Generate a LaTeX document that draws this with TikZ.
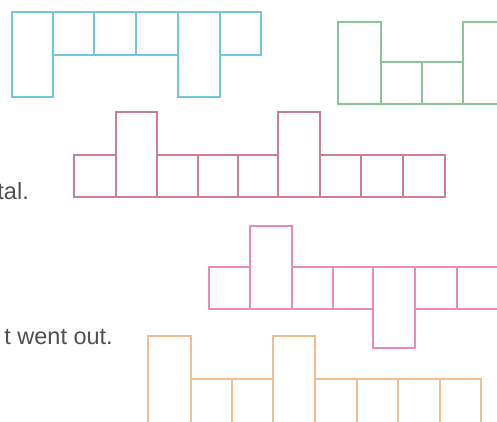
\documentclass[tikz,border=0pt]{standalone}
\usepackage{fontspec}
\setmainfont{Liberation Sans}
\definecolor{cblue}{HTML}{72C6DE}
\definecolor{cgreen}{HTML}{8CC49A}
\definecolor{cred}{HTML}{C98090}
\definecolor{cpink}{HTML}{E78CB6}
\definecolor{corange}{HTML}{F1BF8D}
\definecolor{ctext}{HTML}{505050}
\begin{document}
\begin{tikzpicture}[x=1pt,y=-1pt,
  cell/.style={line width=2pt},
  lbl/.style={text=ctext,font=\fontsize{23.5}{26}\selectfont,inner sep=0pt,anchor=base east}]
\useasboundingbox (0,0) rectangle (497,421);
% blue
\begin{scope}[cell,draw=cblue]
\draw (12,12) rectangle (53,97);
\draw (53,12) rectangle (94,55);
\draw (94,12) rectangle (136,55);
\draw (136,12) rectangle (178,55);
\draw (178,12) rectangle (220,97);
\draw (220,12) rectangle (261,55);
\end{scope}
% green
\begin{scope}[cell,draw=cgreen]
\draw (338,22) rectangle (381,104);
\draw (381,62) rectangle (422,104);
\draw (422,62) rectangle (463,104);
\draw (463,22) rectangle (506,104);
\end{scope}
% red
\begin{scope}[cell,draw=cred]
\draw (74,155) rectangle (116,197);
\draw (116,112) rectangle (157,197);
\draw (157,155) rectangle (198,197);
\draw (198,155) rectangle (238,197);
\draw (238,155) rectangle (278,197);
\draw (278,112) rectangle (320,197);
\draw (320,155) rectangle (361,197);
\draw (361,155) rectangle (403,197);
\draw (403,155) rectangle (445,197);
\end{scope}
% pink
\begin{scope}[cell,draw=cpink]
\draw (209,267) rectangle (250,309);
\draw (250,226) rectangle (292,309);
\draw (292,267) rectangle (333,309);
\draw (333,267) rectangle (373,309);
\draw (373,267) rectangle (415,348);
\draw (415,267) rectangle (457,309);
\draw (457,267) rectangle (498,309);
\end{scope}
% orange
\begin{scope}[cell,draw=corange]
\draw (148,336) rectangle (191,423);
\draw (191,379) rectangle (232,423);
\draw (232,379) rectangle (273,423);
\draw (273,336) rectangle (315,423);
\draw (315,379) rectangle (357,423);
\draw (357,379) rectangle (398,423);
\draw (398,379) rectangle (440,423);
\draw (440,379) rectangle (481,423);
\end{scope}
\node[lbl] (t1) at (29,199) {tal.};
\node[lbl] (t2) at (113,344) {t went out.};
\end{tikzpicture}
\end{document}
